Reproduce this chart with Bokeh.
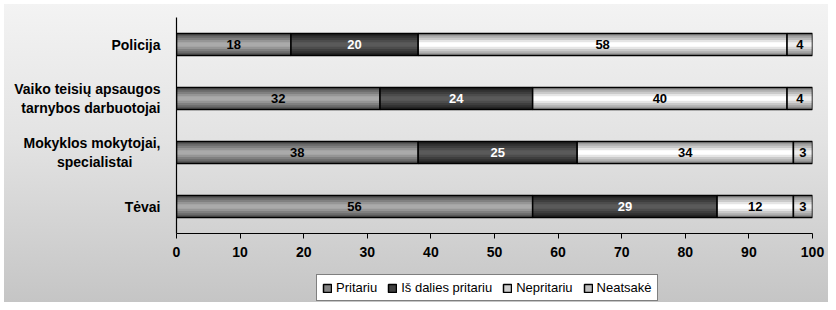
import numpy as np
from bokeh.plotting import figure
from bokeh.layouts import column
from bokeh.models import ColumnDataSource, FactorRange, Legend, LegendItem, FixedTicker, Range1d
from bokeh.embed import file_html
from bokeh.resources import INLINE
from bokeh.core.properties import value

# ---- data ----
categories = ["Policija",
              "Vaiko teisių apsaugos\ntarnybos darbuotojai",
              "Mokyklos mokytojai,\nspecialistai\u2003\u2003",
              "Tėvai"]
series_names = ["Pritariu", "Iš dalies pritariu", "Nepritariu", "Neatsakė"]
pritariu = [18, 32, 38, 56]
is_dalies_pritariu = [20, 24, 25, 29]
nepritariu = [58, 40, 34, 12]
neatsake = [4, 4, 3, 3]
x_ticks = [0, 10, 20, 30, 40, 50, 60, 70, 80, 90, 100]

series_values = [pritariu, is_dalies_pritariu, nepritariu, neatsake]

# ---- styles ----
FONT = "Liberation Sans"
edge_colors = [(85, 85, 85), (34, 34, 34), (150, 150, 150), (135, 135, 135)]
center_colors = [(170, 170, 170), (90, 90, 90), (255, 255, 255), (238, 238, 238)]
label_colors = ["black", "white", "black", "black"]
BAR_H = 0.41
layer_fracs = [1.0, 0.8, 0.6, 0.4, 0.2]


def mix(a, b, t):
    return "#%02x%02x%02x" % tuple(int(round(a[i] + (b[i] - a[i]) * t)) for i in range(3))


def clean(fig):
    fig.background_fill_color = None
    fig.border_fill_color = None
    fig.outline_line_color = None


p = figure(width=828, height=268,
           y_range=FactorRange(factors=categories[::-1]),
           x_range=Range1d(0, 100),
           output_backend="svg", toolbar_location=None,
           min_border_left=176, min_border_right=16,
           min_border_top=17, min_border_bottom=35)
clean(p)

# legend-only figure (swatch renderers hold no visible points)
lg = figure(width=828, height=34, x_range=Range1d(0, 1), y_range=Range1d(0, 1),
            output_backend="svg", toolbar_location=None,
            x_axis_type=None, y_axis_type=None,
            min_border_left=0, min_border_right=0, min_border_top=0, min_border_bottom=0)
clean(lg)
lg.xgrid.grid_line_color = None
lg.ygrid.grid_line_color = None

left = np.zeros(len(categories))
legend_items = []
for s, (name, vals) in enumerate(zip(series_names, series_values)):
    vals = np.array(vals, dtype=float)
    right = left + vals
    src = ColumnDataSource(dict(cat=categories, left=left.copy(), right=right.copy(),
                                mid=(left + right) / 2.0,
                                label=[str(int(v)) for v in vals]))
    n = len(layer_fracs)
    for k, f in enumerate(layer_fracs):
        p.hbar(y="cat", left="left", right="right", height=BAR_H * f, source=src,
               fill_color=mix(edge_colors[s], center_colors[s], k / (n - 1)),
               line_color=None)
    p.hbar(y="cat", left="left", right="right", height=BAR_H, source=src,
           fill_color=None, line_color="black", line_width=1.5)
    p.text(x="mid", y="cat", text="label", source=src,
           text_align="center", text_baseline="middle",
           text_font=value(FONT), text_font_style="bold", text_font_size="13px",
           text_color=label_colors[s])
    nan_src = ColumnDataSource(dict(y=[np.nan], left=[np.nan], right=[np.nan]))
    sw = lg.hbar(y="y", left="left", right="right", height=1, source=nan_src,
                 fill_color=mix(edge_colors[s], center_colors[s], 0.55),
                 line_color="black", line_width=1.5)
    legend_items.append(LegendItem(label=name, renderers=[sw]))
    left = right

# axes
p.xgrid.grid_line_color = None
p.ygrid.grid_line_color = None
p.xaxis.ticker = FixedTicker(ticks=x_ticks)
p.xaxis.minor_tick_line_color = None
p.xaxis.major_tick_in = 0
p.xaxis.major_tick_out = 5
p.xaxis.major_label_standoff = 8
p.yaxis.major_tick_line_color = None
p.yaxis.minor_tick_line_color = None
p.yaxis.major_label_standoff = 10
for ax in (p.xaxis, p.yaxis):
    ax.axis_line_color = "black"
    ax.axis_line_width = 1.2
    ax.major_label_text_font = FONT
    ax.major_label_text_font_style = "bold"
    ax.major_label_text_font_size = "14px"
    ax.major_label_text_color = "black"
p.xaxis.major_tick_line_color = "black"

legend = Legend(items=legend_items, orientation="horizontal", location=(140, 1),
                border_line_color="black", border_line_width=1.5,
                background_fill_color="white", background_fill_alpha=1.0,
                label_text_font=FONT, label_text_font_size="13px",
                label_text_color="black",
                glyph_width=10, glyph_height=10, label_standoff=4,
                spacing=10, padding=5, margin=0)
lg.add_layout(legend, "center")

layout = column(p, lg, spacing=0, styles={
    "background-color": "white",
    "background-image": "linear-gradient(to bottom, #f3f3f3 0%, #e3e3e3 45%, #c5c5c5 100%)",
    "background-repeat": "no-repeat",
    "background-position": "4px 4px",
    "background-size": "824px 298px",
})

open("out.html", "w").write(file_html(layout, INLINE))
